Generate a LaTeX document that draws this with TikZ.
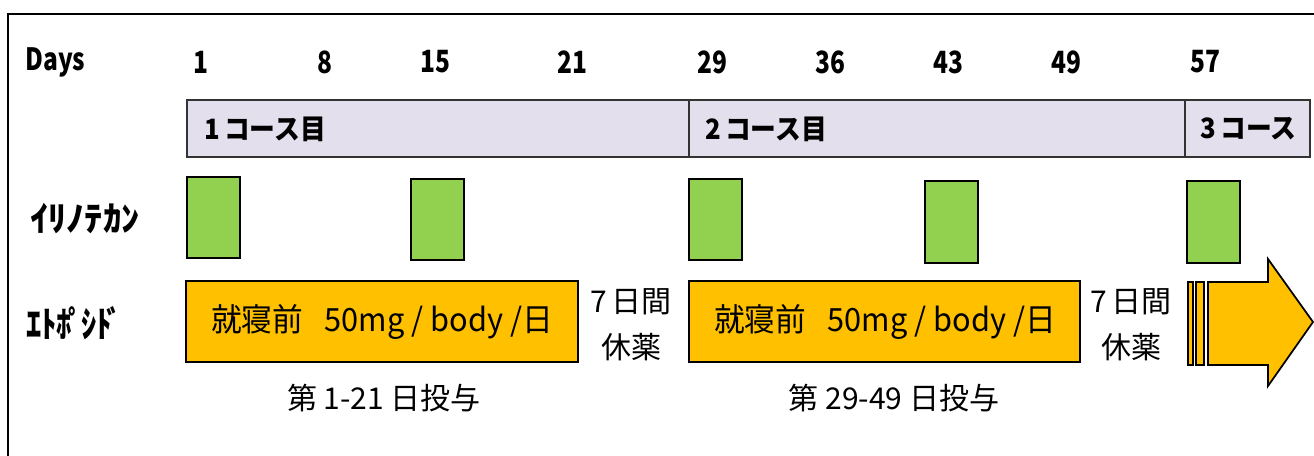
\documentclass[tikz,border=0pt]{standalone}
\usepackage{fontspec}
\usepackage{graphicx}
\setmainfont{Noto Sans CJK JP}
\definecolor{lav}{HTML}{E4DFEC}
\definecolor{grn}{HTML}{92D050}
\definecolor{org}{HTML}{FFC000}
\newcommand{\nar}[1]{\scalebox{0.8}[1]{#1}}
\tikzset{
  lbl/.style={inner sep=0pt, font=\fontsize{23}{25}\selectfont\bfseries},
  course/.style={inner sep=0pt, anchor=west, font=\fontsize{21}{23}\selectfont\bfseries},
  greenbox/.style={draw=black, line width=1.3pt, fill=grn},
  orangebox/.style={draw=black, line width=1.3pt, fill=org},
  dose/.style={inner sep=0pt, font=\fontsize{24}{26}\selectfont},
  rest/.style={inner sep=0pt, font=\fontsize{22.5}{25}\selectfont},
}
\begin{document}
\begin{tikzpicture}[x=0.75pt,y=-0.75pt]
\useasboundingbox (0,0) rectangle (1314,455);
% frame
\draw[line width=1.5pt] (8,460) -- (8,14) -- (1320,14);
% header
\node[lbl, anchor=west] (days) at (25,62) {\nar{Days}};
\node[lbl] (d1) at (201,62) {\nar{1}};
\node[lbl] (d8) at (325,62) {\nar{8}};
\node[lbl] (d15) at (435,62) {\nar{15}};
\node[lbl] (d21) at (572,62) {\nar{21}};
\node[lbl] (d29) at (712,62) {\nar{29}};
\node[lbl] (d36) at (830,62) {\nar{36}};
\node[lbl] (d43) at (948,62) {\nar{43}};
\node[lbl] (d49) at (1066,62) {\nar{49}};
\node[lbl] (d57) at (1205,62) {\nar{57}};
% course bar
\fill[lav] (187,100) rectangle (1310,157);
\draw[line width=1.1pt, draw=black!80] (187,100) rectangle (1310,157);
\draw[line width=1.1pt, draw=black!80] (689,100) -- (689,157);
\draw[line width=1.1pt, draw=black!80] (1185,100) -- (1185,157);
\node[course] (c1) at (204,129) {\scalebox{0.92}[1]{1\,コース目}};
\node[course] (c2) at (705,129) {\scalebox{0.92}[1]{2\,コース目}};
\node[course] (c3) at (1200,129) {\scalebox{0.92}[1]{3\,コース}};
% drug labels
\node[inner sep=0pt, anchor=west] (iri) at (30,218) {\scalebox{1.05}[1]{\fontsize{26}{28}\selectfont\bfseries ｲﾘﾉﾃｶﾝ}};
\node[inner sep=0pt, anchor=west] (eto) at (26,323) {\scalebox{0.85}[1]{\fontsize{27}{29}\selectfont\bfseries ｴﾄﾎ\kern-0.12emﾟ\kern-0.08emｼﾄ\kern-0.18emﾞ}};
% irinotecan boxes
\draw[greenbox] (187,177) rectangle (240,258);
\draw[greenbox] (411,179) rectangle (464,260);
\draw[greenbox] (689,179) rectangle (742,260);
\draw[greenbox] (925,181) rectangle (978,263);
\draw[greenbox] (1187,181) rectangle (1240,263);
% etoposide boxes
\draw[orangebox] (186,281) rectangle (578,362);
\node[dose] (e1) at (382,322) {\scalebox{0.96}[1]{就寝前\hspace{0.7em}50mg / body /日}};
\draw[orangebox] (689,281) rectangle (1080,362);
\node[dose] (e2) at (885,322) {\scalebox{0.96}[1]{就寝前\hspace{0.7em}50mg / body /日}};
% rest labels
\node[rest] (r1a) at (631,302) {7\,日間};
\node[rest] (r1b) at (631,347) {休薬};
\node[rest] (r2a) at (1131,302) {7\,日間};
\node[rest] (r2b) at (1131,347) {休薬};
% day ranges
\node[rest] (g1) at (384,398) {第 1-21 日投与};
\node[rest] (g2) at (894,398) {第 29-49 日投与};
% continuation arrow
\draw[orangebox] (1188,282) rectangle (1193,365);
\draw[orangebox] (1196,282) rectangle (1204,365);
\draw[orangebox, line join=miter] (1208,282) -- (1268,282) -- (1268,259) -- (1313,322) -- (1268,386) -- (1268,365) -- (1208,365) -- cycle;
\end{tikzpicture}
\end{document}
